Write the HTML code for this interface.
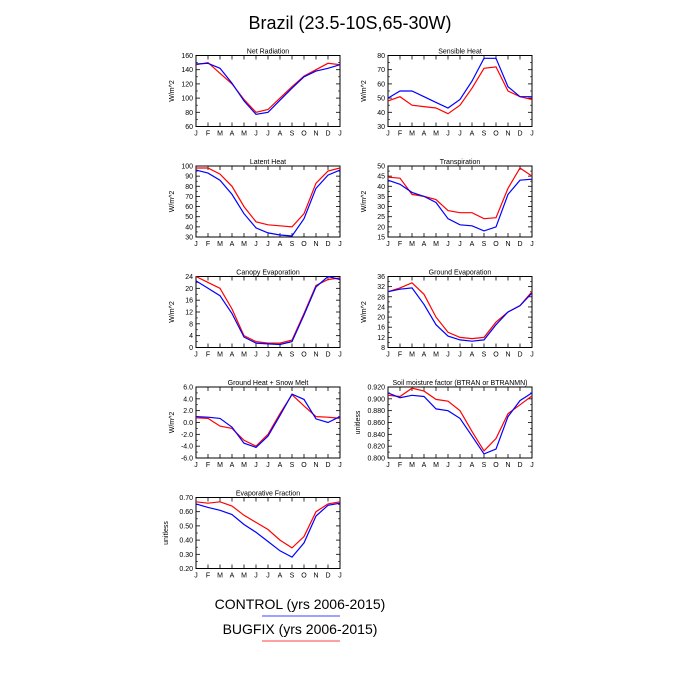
<!DOCTYPE html>
<html><head><meta charset="utf-8"><style>body{margin:0;background:#fff}svg{display:block}</style></head>
<body>
<svg id="s" width="700" height="700" xmlns="http://www.w3.org/2000/svg" font-family="Liberation Sans, sans-serif">
<rect width="700" height="700" fill="#fff"/>
<text x="350" y="29" font-size="18" text-anchor="middle">Brazil (23.5-10S,65-30W)</text>
<text x="300" y="609" font-size="14" text-anchor="middle">CONTROL (yrs 2006-2015)</text>
<line x1="262" y1="616" x2="340" y2="616" stroke="#4040ff" stroke-width="1"/>
<text x="300" y="634" font-size="14" text-anchor="middle">BUGFIX (yrs 2006-2015)</text>
<line x1="262" y1="641" x2="340" y2="641" stroke="#ff4040" stroke-width="1"/>
</svg>
<script>
const P=[
{t:"Net Radiation",c:0,r:0,lo:60,hi:160,st:20,d:0,u:"W/m^2",
b:[148,149,142,121,96,77,80,97,114,130,138,142,147],
R:[147,150,135,120,98,80,84,100,116,131,140,149,147]},
{t:"Sensible Heat",c:1,r:0,lo:30,hi:80,st:10,d:0,u:"W/m^2",
b:[50,55,55,51,47,43,49,62,78,78,58,51,51],
R:[48,51,45,44,43,39,45,57,71,72,55,51,49]},
{t:"Latent Heat",c:0,r:1,lo:30,hi:100,st:10,d:0,u:"W/m^2",
b:[96,93,86,72,53,39,34,32,31,48,78,91,96],
R:[98,98,92,80,60,45,42,41,40,53,83,95,98]},
{t:"Transpiration",c:1,r:1,lo:15,hi:50,st:5,d:0,u:"W/m^2",
b:[43,41,37,35,32,24,21,20.5,18,20,36,43,43.5],
R:[44.5,44,36,35,33.5,28,27,27,24,24.5,39,49,45]},
{t:"Canopy Evaporation",c:0,r:2,lo:0,hi:24,st:4,d:0,u:"W/m^2",
b:[22.5,20,17.5,11.5,3.5,1.5,1.2,1,2,11,20.5,24,23],
R:[24,22,20,13,4,2,1.5,1.5,2.5,11.5,21,23,23.5]},
{t:"Ground Evaporation",c:1,r:2,lo:8,hi:36,st:4,d:0,u:"W/m^2",
b:[30,31,31.5,25,17,12.5,11,10.5,11,17,22,24.5,29.5],
R:[30,31.5,33.5,29,20,14,12,11.5,12,18,22,24.5,30]},
{t:"Ground Heat + Snow Melt",c:0,r:3,lo:-6,hi:6,st:2,d:1,u:"W/m^2",
b:[1.0,0.9,0.7,-0.8,-3.5,-4.2,-2.3,1.2,4.8,3.9,0.6,0.0,1.0],
R:[0.8,0.7,-0.6,-1.0,-3.0,-4.0,-2.0,1.5,4.7,2.8,1.0,0.9,0.7]},
{t:"Soil moisture factor (BTRAN or BTRANMN)",c:1,r:3,lo:0.8,hi:0.92,st:0.02,d:3,u:"unitless",
b:[.910,.902,.906,.904,.883,.880,.867,.837,.807,.815,.870,.897,.910],
R:[.906,.904,.918,.913,.899,.896,.880,.845,.812,.833,.875,.890,.905]},
{t:"Evaporative Fraction",c:0,r:4,lo:0.2,hi:0.7,st:0.1,d:2,u:"unitless",
b:[.655,.63,.61,.58,.51,.455,.39,.325,.28,.38,.57,.645,.66],
R:[.67,.66,.67,.64,.575,.525,.475,.40,.345,.425,.60,.655,.67]}];
const M="JFMAMJJASONDJ";
let h="";
for(const p of P){
 const x0=p.c?388:196,w=144,y0=55.5+p.r*110.5,H=71;
 const X=i=>x0+i*w/12,Y=v=>y0+H-(v-p.lo)/(p.hi-p.lo)*H;
 h+=`<rect x="${x0}" y="${y0}" width="${w}" height="${H}" fill="none" stroke="#000" stroke-width="1"/>`;
 h+=`<text x="${x0+w/2}" y="${y0-2}" font-size="7" text-anchor="middle">${p.t}</text>`;
 for(let i=0;i<13;i++){const x=X(i);
  h+=`<line x1="${x}" y1="${y0+H}" x2="${x}" y2="${y0+H-4}" stroke="#000" stroke-width="0.8"/><line x1="${x}" y1="${y0}" x2="${x}" y2="${y0+4}" stroke="#000" stroke-width="0.8"/>`;
  h+=`<text x="${x}" y="${y0+H+9}" font-size="7" text-anchor="middle">${M[i]}</text>`;}
 const n=Math.round((p.hi-p.lo)/p.st);
 for(let k=0;k<=n;k++){const v=p.lo+k*p.st,y=Y(v);
  h+=`<line x1="${x0}" y1="${y}" x2="${x0+4}" y2="${y}" stroke="#000" stroke-width="0.8"/><line x1="${x0+w}" y1="${y}" x2="${x0+w-4}" y2="${y}" stroke="#000" stroke-width="0.8"/>`;
  h+=`<text x="${x0-3}" y="${y+2.5}" font-size="7" text-anchor="end">${v.toFixed(p.d)}</text>`;
  if(k<n){const ym=Y(v+p.st/2);h+=`<line x1="${x0}" y1="${ym}" x2="${x0+2}" y2="${ym}" stroke="#000" stroke-width="0.6"/><line x1="${x0+w}" y1="${ym}" x2="${x0+w-2}" y2="${ym}" stroke="#000" stroke-width="0.6"/>`;}}
 const lx=x0-(p.d>=2?28:22);
 h+=`<text x="${lx}" y="${y0+H/2}" font-size="7" text-anchor="middle" transform="rotate(-90 ${lx} ${y0+H/2})">${p.u}</text>`;
 const pl=(a,c)=>`<polyline fill="none" stroke="${c}" stroke-width="1.2" points="${a.map((v,i)=>X(i).toFixed(1)+","+Y(v).toFixed(1)).join(" ")}"/>`;
 h+=pl(p.R,"#ff0000")+pl(p.b,"#0000ff");
}
document.getElementById("s").insertAdjacentHTML("beforeend",h);
</script>
</body></html>
